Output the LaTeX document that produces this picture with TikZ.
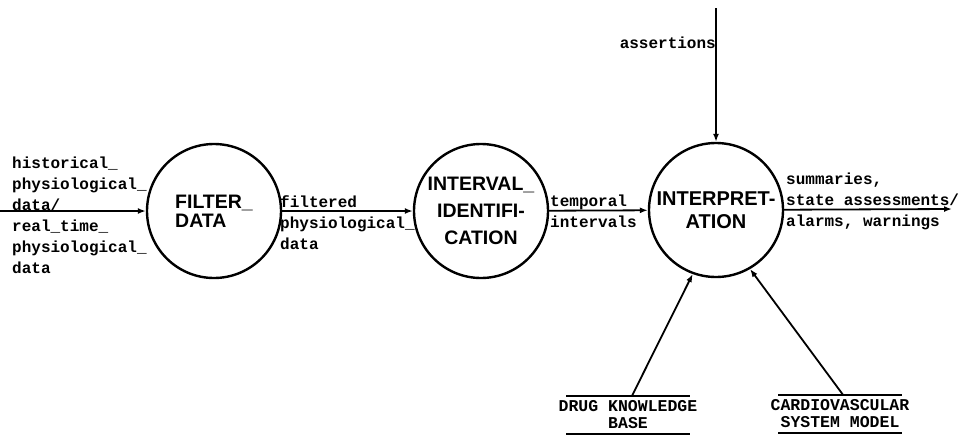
\documentclass[tikz,border=0pt]{standalone}
\usepackage{fontspec}
\newfontfamily\procfont{Liberation Sans}
\newfontfamily\flowfont{Liberation Mono}
\usetikzlibrary{arrows.meta}

\begin{document}
\begin{tikzpicture}[x=1pt,y=-1pt,
	proc/.style={draw,circle,line width=2.4pt,minimum size=134pt,inner sep=0,font=\procfont\bfseries\fontsize{19.5}{19}\selectfont},
	flow/.style={line width=1.8pt,-{Latex[length=8pt,width=6pt]}},
	lbl/.style={inner sep=0,align=left,font=\flowfont\bfseries\fontsize{16}{21}\selectfont},
	store/.style={inner sep=0,minimum height=38pt,align=center,font=\flowfont\bfseries\fontsize{16.5}{17}\selectfont}]
	\useasboundingbox (0,0) rectangle (961,437);
	\node[proc,align=left] (1) at (214,211) {FILTER\_\\DATA};
	\node[proc,align=center] (2) at (481,211) {INTERVAL\_\\[8pt]IDENTIFI-\\[8pt]CATION};
	\node[proc,align=center,font=\procfont\bfseries\fontsize{20}{19}\selectfont] (3) at (716,210) {INTERPRET-\\[4pt]ATION};
	\node[store] (4) at (628,415) {DRUG KNOWLEDGE\\BASE};
	\node[store] (5) at (840,414) {CARDIOVASCULAR\\SYSTEM MODEL};
	\coordinate (in) at (0,211);
	\coordinate (out) at (952,209);
	\coordinate (top) at (716,8);
	% flow labels
	\node[lbl,anchor=west] (l1) at (12,215) {historical\_\\physiological\_\\data/\\real\_time\_\\physiological\_\\data};
	\node[lbl,anchor=west] (l2) at (280,223) {filtered\\physiological\_\\data};
	\node[lbl,anchor=west] (l3) at (550,211) {temporal\\intervals};
	\node[lbl,anchor=west] (l4) at (786,201) {summaries,\\state assessments/\\alarms, warnings};
	\node[lbl,anchor=east] (l5) at (716,43) {assertions};
	% flows
	\draw[flow] (in) -- (1);
	\draw[flow] (1) -- (2);
	\draw[flow] (2) -- (3);
	\draw[flow] (3) -- (out);
	\draw[flow] (top) -- (3);
	\draw[flow] ([xshift=4pt]4.north) -- (3.250);
	\draw[flow] ([xshift=3pt]5.north) -- (3.300);
	% data stores
	\draw[line width=1.5pt] ([xshift=-62pt]4.north) -- ([xshift=62pt]4.north);
	\draw[line width=1.5pt] ([xshift=-62pt]4.south) -- ([xshift=62pt]4.south);
	\draw[line width=1.5pt] ([xshift=-62pt]5.north) -- ([xshift=62pt]5.north);
	\draw[line width=1.5pt] ([xshift=-62pt]5.south) -- ([xshift=62pt]5.south);
\end{tikzpicture}
\end{document}
